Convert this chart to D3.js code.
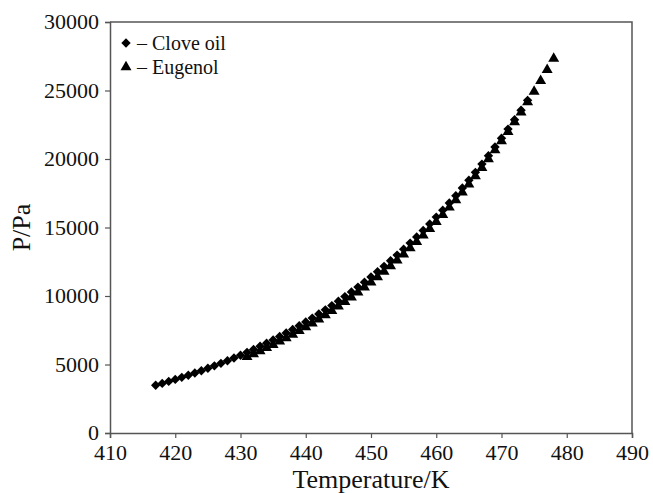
<!DOCTYPE html>
<html>
<head>
<meta charset="utf-8">
<script src="https://cdn.jsdelivr.net/npm/d3@7"></script>
<style>
  html, body { margin: 0; padding: 0; background: #fff; }
  svg { display: block; }
  text { font-family: "Liberation Serif", "Times New Roman", serif !important; fill: #111; }
</style>
</head>
<body>
<svg id="chart" width="653" height="493"></svg>
<script>
// ---- data ----
const cloveT = [417,418,419,420,421,422,423,424,425,426,427,428,429,430,431,432,433,434,435,436,437,438,439,440,441,442,443,444,445,446,447,448,449,450,451,452,453,454,455,456,457,458,459,460,461,462,463,464,465,466,467,468,469,470,471,472,473,474];
const cloveP = [3487,3622,3764,3911,4063,4219,4381,4543,4722,4901,5086,5277,5474,5678,5887,6104,6328,6559,6797,7042,7296,7557,7826,8103,8389,8685,8989,9301,9624,9955,10297,10649,11012,11384,11768,12163,12570,12988,13418,13860,14315,14783,15264,15759,16268,16790,17326,17879,18446,19027,19626,20240,20872,21518,22181,22863,23561,24282];
const eugT = [431,432,433,434,435,436,437,438,439,440,441,442,443,444,445,446,447,448,449,450,451,452,453,454,455,456,457,458,459,460,461,462,463,464,465,466,467,468,469,470,471,472,473,474,475,476,477,478];
const eugP = [5551,5763,5983,6209,6442,6683,6933,7190,7456,7729,8012,8305,8607,8917,9238,9569,9910,10261,10624,10997,11382,11779,12188,12609,13042,13490,13950,14424,14911,15414,15931,16463,17009,17573,18153,18749,19363,19993,20642,21307,21990,22694,23415,24161,24925,25705,26506,27334];
const xTicks = [410,420,430,440,450,460,470,480,490];
const yTicks = [0,5000,10000,15000,20000,25000,30000];
const seriesNames = ["Clove oil", "Eugenol"];

// ---- layout ----
const L = 110, R = 632, T = 22, B = 433;
const svg = d3.select("#chart");
const x = d3.scaleLinear().domain([410, 490]).range([L, R]);
const y = d3.scaleLinear().domain([0, 30000]).range([B, T]);
const axisColor = "#555";
const serif = '"Liberation Serif", "Times New Roman", serif';

// frame (top & right)
svg.append("path")
  .attr("d", `M${L},${T}H${R}V${B}`)
  .attr("fill", "none").attr("stroke", axisColor).attr("stroke-width", 1.5);

const xAxis = svg.append("g").attr("transform", `translate(0,${B})`)
  .call(d3.axisBottom(x).tickValues(xTicks).tickSize(5).tickPadding(6).tickFormat(d3.format("d")));
const yAxis = svg.append("g").attr("transform", `translate(${L},0)`)
  .call(d3.axisLeft(y).tickValues(yTicks).tickSize(5).tickPadding(6).tickFormat(d3.format("d")));
[xAxis, yAxis].forEach(g => {
  g.attr("font-family", null).style("font-family", serif);
  g.select(".domain").attr("stroke", axisColor).attr("stroke-width", 1.5);
  g.selectAll(".tick line").attr("stroke", axisColor).attr("stroke-width", 1.2);
  g.selectAll(".tick text").style("font-family", serif)
    .attr("font-size", 22).attr("fill", "#111");
});
xAxis.selectAll(".tick text").attr("dy", "0.74em");
yAxis.selectAll(".tick text").attr("dy", "0.3em");

// axis titles
svg.append("text").attr("x", (L + R) / 2).attr("y", 488)
  .style("font-family", serif)
  .attr("text-anchor", "middle").attr("font-size", 26).text("Temperature/K");
svg.append("text").attr("transform", `translate(30,${(T + B) / 2}) rotate(-90)`)
  .style("font-family", serif)
  .attr("text-anchor", "middle").attr("font-size", 26).text("P/Pa");

// markers
const diamond = d3.symbol().type(d3.symbolDiamond2).size(56);
const tri = d3.symbol().type(d3.symbolTriangle).size(52);

const clove = cloveT.map((t, i) => ({ t, p: cloveP[i] }));
const eug = eugT.map((t, i) => ({ t, p: eugP[i] }));

svg.append("g").selectAll("path").data(eug).join("path")
  .attr("d", tri).attr("fill", "#000")
  .attr("transform", d => `translate(${x(d.t)},${y(d.p)})`);
svg.append("g").selectAll("path").data(clove).join("path")
  .attr("d", diamond).attr("fill", "#000")
  .attr("transform", d => `translate(${x(d.t)},${y(d.p)})`);

// legend
const lg = svg.append("g");
lg.append("path").attr("d", diamond).attr("fill", "#000").attr("transform", "translate(126,43)");
lg.append("path").attr("d", tri).attr("fill", "#000").attr("transform", "translate(126,67)");
lg.append("text").attr("x", 137).attr("y", 50).attr("font-size", 20)
  .style("font-family", serif).text("\u2013 " + seriesNames[0]);
lg.append("text").attr("x", 137).attr("y", 74).attr("font-size", 20)
  .style("font-family", serif).text("\u2013 " + seriesNames[1]);
</script>
</body>
</html>
